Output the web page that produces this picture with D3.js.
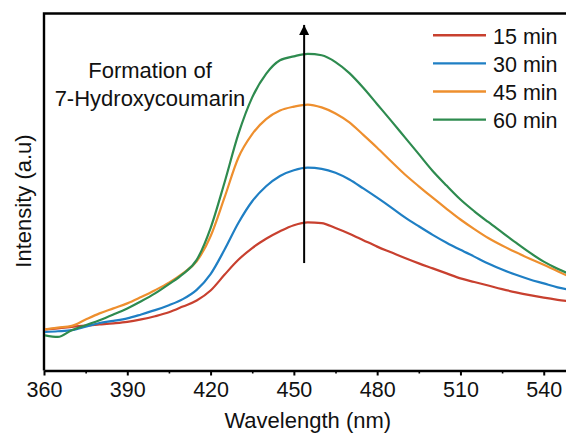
<!DOCTYPE html>
<html lang="en">
<head>
    <meta charset="UTF-8">
    <title>7-Hydroxycoumarin fluorescence</title>
    <script src="https://d3js.org/d3.v7.min.js"></script>
    <style>
      body { margin: 0; background: #fff; }
      svg { display: block; font-family: Arial, "Liberation Sans", sans-serif; }
    </style>
</head>
<body>
    <svg id="chart" width="566" height="436"></svg>

    <script>
      // wavelength grid (nm) the curves were read at
      const wavelength = [360, 365, 370, 375, 380, 385, 390, 395, 400, 405, 410, 415, 420, 425, 430, 435, 440, 445, 450, 455, 460, 465, 470, 475, 480, 485, 490, 495, 500, 505, 510, 515, 520, 525, 530, 535, 540, 545, 550]

      // intensity (a.u.)
      const int15 = [11.5, 11.8, 12.2, 12.6, 12.9, 13.2, 13.6, 14.3, 15.2, 16.3, 17.9, 19.6, 22.4, 26.8, 31.0, 34.3, 36.9, 39.0, 40.7, 41.5, 41.3, 39.9, 38.3, 36.5, 34.7, 33.1, 31.5, 30.0, 28.6, 27.2, 25.8, 24.8, 23.8, 22.8, 21.9, 21.1, 20.4, 19.8, 19.3]
      const int30 = [10.8, 11.0, 11.3, 12.3, 13.3, 13.9, 14.6, 15.7, 16.9, 18.3, 20.0, 22.6, 27.0, 33.8, 41.3, 47.4, 51.6, 54.5, 56.1, 56.8, 56.5, 55.4, 53.5, 51.0, 48.4, 45.7, 42.9, 40.4, 38.0, 35.8, 33.8, 31.9, 30.0, 28.3, 26.8, 25.5, 24.4, 23.3, 22.5]
      const int45 = [11.5, 12.0, 12.5, 14.3, 16.0, 17.4, 18.8, 20.6, 22.5, 24.6, 27.2, 30.6, 37.6, 48.4, 59.6, 66.2, 70.4, 72.8, 73.9, 74.5, 73.7, 72.0, 69.5, 66.0, 62.4, 58.6, 54.9, 51.6, 48.4, 45.3, 42.3, 39.6, 37.1, 35.0, 33.1, 31.3, 29.6, 27.8, 26.0]
      const int60 = [9.9, 9.4, 11.3, 12.7, 14.1, 15.7, 17.4, 19.4, 21.6, 24.2, 27.0, 31.0, 39.9, 52.6, 66.2, 76.5, 83.1, 86.9, 88.0, 88.7, 88.3, 86.4, 83.3, 79.2, 74.6, 70.0, 65.3, 60.6, 55.9, 51.8, 47.9, 44.6, 41.6, 38.7, 35.8, 33.0, 30.5, 28.5, 26.8]

      const seriesNames = ["15 min", "30 min", "45 min", "60 min"]
      const seriesColors = ["#c8402f", "#1f7fc4", "#ee8f2e", "#2e8b4f"]
      const xTicks = [360, 390, 420, 450, 480, 510, 540]

      // annotation arrow (wavelength, from / to intensity)
      const arrowAt = 453.7
      const arrowFrom = 30.1
      const arrowTo = 96.8
      const noteLines = ["Formation of", "7-Hydroxycoumarin"]

      const svg = d3.select("#chart")
      const padL = 44, padT = 13.5, axisY = 370.5, padR = 571.5

      const xScale = d3.scaleLinear().domain([360, 550]).range([padL, padR])
      const yScale = d3.scaleLinear().domain([0, 100]).range([axisY, axisY - 357])

      // frame: top and left border (right one falls outside the picture)
      svg.append("path")
        .attr("d", `M${padL},${axisY} V${padT} H${padR} V${axisY}`)
        .attr("fill", "none").attr("stroke", "#000").attr("stroke-width", 2.4)

      // x axis with minor ticks
      const minor = d3.range(375, 550, 30)
      svg.append("g").attr("transform", `translate(0,${axisY})`)
        .call(d3.axisBottom(xScale).tickValues(minor).tickSize(3).tickFormat(""))
        .call(g => g.select(".domain").remove())
        .selectAll("line").attr("stroke-width", 1.6)

      const xAxis = svg.append("g").attr("transform", `translate(0,${axisY})`)
        .call(d3.axisBottom(xScale).tickValues(xTicks).tickSize(5).tickPadding(6).tickSizeOuter(0))
      xAxis.select(".domain").attr("stroke-width", 2.4)
      xAxis.selectAll("line").attr("stroke-width", 2)
      xAxis.selectAll("text").attr("font-size", 21.5).attr("fill", "#111")
        .attr("font-family", "Arial, 'Liberation Sans', sans-serif")

      // axis titles
      svg.append("text").attr("x", xScale(455)).attr("y", 428)
        .attr("text-anchor", "middle").attr("font-size", 22).attr("fill", "#111")
        .text("Wavelength (nm)")
      svg.append("text").attr("transform", "translate(31,201) rotate(-90)")
        .attr("text-anchor", "middle").attr("font-size", 22).attr("fill", "#111")
        .text("Intensity (a.u)")

      // spectra
      const allSeries = [int15, int30, int45, int60]
      const line = d3.line()
        .x((d, i) => xScale(wavelength[i]))
        .y(d => yScale(d))
        .curve(d3.curveMonotoneX)

      svg.append("defs").append("clipPath").attr("id", "plotClip")
        .append("rect").attr("x", padL + 1).attr("y", padT + 1)
        .attr("width", padR - padL).attr("height", axisY - padT - 2)

      svg.append("g").attr("clip-path", "url(#plotClip)")
        .selectAll("path").data(allSeries).enter()
        .append("path")
        .attr("d", line)
        .attr("fill", "none")
        .attr("stroke", (d, i) => seriesColors[i])
        .attr("stroke-width", 2.2)
        .attr("stroke-linejoin", "round")

      // arrow
      svg.append("defs").append("marker")
        .attr("id", "head").attr("viewBox", "0 0 10 10")
        .attr("refX", 10).attr("refY", 5)
        .attr("markerWidth", 20).attr("markerHeight", 10)
        .attr("markerUnits", "userSpaceOnUse").attr("orient", "auto")
        .append("path").attr("d", "M0,0 L10,5 L0,10 Z").attr("fill", "#000")
      svg.append("line")
        .attr("x1", xScale(arrowAt)).attr("x2", xScale(arrowAt))
        .attr("y1", yScale(arrowFrom)).attr("y2", yScale(arrowTo))
        .attr("stroke", "#000").attr("stroke-width", 2)
        .attr("marker-end", "url(#head)")

      svg.selectAll("text.note").data(noteLines).enter()
        .append("text").attr("class", "note")
        .attr("x", 150).attr("y", (d, i) => 78 + i * 28)
        .attr("text-anchor", "middle").attr("font-size", 22).attr("fill", "#111")
        .text(d => d)

      // legend
      const legend = svg.selectAll("g.legend").data(seriesNames).enter()
        .append("g").attr("class", "legend")
        .attr("transform", (d, i) => `translate(433,${35.3 + i * 28.1})`)
      legend.append("line").attr("x1", 0).attr("x2", 53)
        .attr("stroke", (d, i) => seriesColors[i]).attr("stroke-width", 2.4)
      legend.append("text").attr("x", 60).attr("y", 8.5)
        .attr("font-size", 21.5).attr("fill", "#111")
        .text(d => d)
    </script>
</body>
</html>
